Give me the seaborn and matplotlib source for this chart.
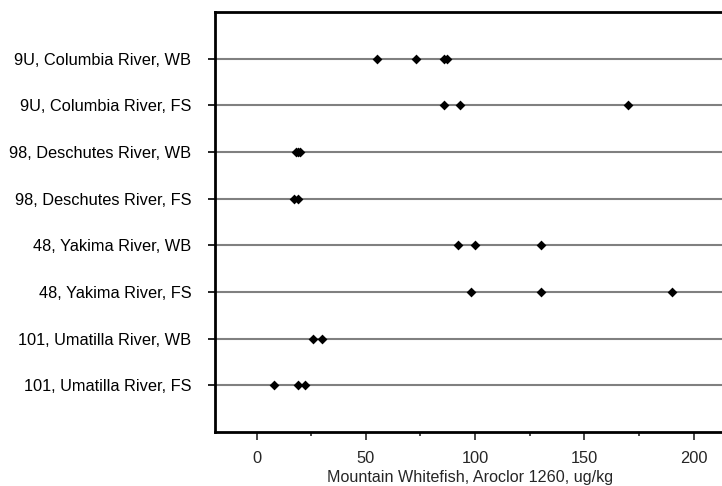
import pandas as pd
import matplotlib
matplotlib.use("Agg")
import matplotlib.pyplot as plt
import seaborn as sns
from matplotlib.ticker import MultipleLocator

# Data
sites = [
    "9U, Columbia River, WB",
    "9U, Columbia River, FS",
    "98, Deschutes River, WB",
    "98, Deschutes River, FS",
    "48, Yakima River, WB",
    "48, Yakima River, FS",
    "101, Umatilla River, WB",
    "101, Umatilla River, FS",
]
columbia_wb = [55, 73, 86, 87]
columbia_fs = [86, 93, 170]
deschutes_wb = [18, 19, 20]
deschutes_fs = [17, 19]
yakima_wb = [92, 100, 130]
yakima_fs = [98, 130, 190]
umatilla_wb = [26, 30]
umatilla_fs = [8, 19, 22]

values = [columbia_wb, columbia_fs, deschutes_wb, deschutes_fs,
          yakima_wb, yakima_fs, umatilla_wb, umatilla_fs]
rows = []
for site, vals in zip(sites, values):
    for v in vals:
        rows.append({"site": site, "aroclor": v})
df = pd.DataFrame(rows)

sns.set_style("white")
plt.rcParams["font.family"] = ["Liberation Sans", "DejaVu Sans"]

fig = plt.figure(figsize=(7.22, 4.86), dpi=100)
ax = fig.add_axes([215 / 722, 1 - 432 / 486, 1 - 215 / 722 + 0.003, 420 / 486])

# grid lines through each category
for i in range(len(sites)):
    ax.axhline(i, color="#808080", lw=1.5, zorder=1)

sns.stripplot(data=df, x="aroclor", y="site", order=sites, orient="h",
              jitter=False, marker="D", size=5, color="black",
              linewidth=0, ax=ax, zorder=3)

ax.set_xlim(-19, 214)
ax.set_ylim(len(sites), -1)
ax.set_yticks(range(len(sites)))
ax.set_yticklabels(sites)
ax.xaxis.set_major_locator(MultipleLocator(50))
ax.xaxis.set_minor_locator(MultipleLocator(25))

ax.tick_params(axis="y", direction="out", length=5, width=1.2, pad=12,
               labelsize=11.8, colors="black", left=True)
ax.tick_params(axis="x", which="major", direction="out", length=6, width=1.2,
               pad=8, labelsize=11.8, bottom=True)
ax.tick_params(axis="x", which="minor", direction="out", length=3, width=1.2,
               bottom=True)

ax.set_xlabel("Mountain Whitefish, Aroclor 1260, ug/kg", fontsize=11.6, labelpad=2.5)
ax.set_ylabel("")

for side in ["left", "bottom", "top"]:
    ax.spines[side].set_color("black")
    ax.spines[side].set_linewidth(2)
ax.spines["right"].set_visible(False)

fig.savefig("out.png", dpi=100)
